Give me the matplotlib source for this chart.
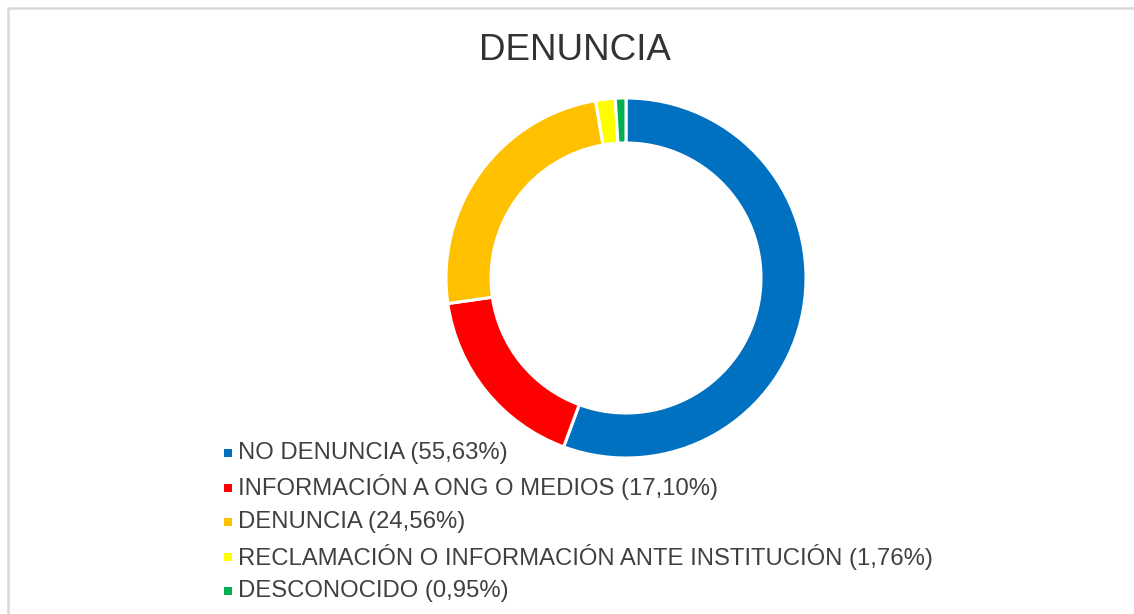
import matplotlib.pyplot as plt

plt.rcParams["font.family"] = ["Liberation Sans", "DejaVu Sans"]

categories = [
    "NO DENUNCIA",
    "INFORMACIÓN A ONG O MEDIOS",
    "DENUNCIA",
    "RECLAMACIÓN O INFORMACIÓN ANTE INSTITUCIÓN",
    "DESCONOCIDO",
]
shares = [55.63, 17.10, 24.56, 1.76, 0.95]
colors = ["#0070C0", "#FF0000", "#FFC000", "#FFFF00", "#00B050"]

W, H = 1134, 614
fig = plt.figure(figsize=(W / 100, H / 100), dpi=100)
ax = fig.add_axes([0, 0, 1, 1])

ax.pie(
    shares,
    colors=colors,
    startangle=90,
    counterclock=False,
    center=(626, H - 278),
    radius=180,
    wedgeprops=dict(width=45, edgecolor="white", linewidth=2.2),
    frame=True,
)
ax.set_xlim(0, W)
ax.set_ylim(0, H)
ax.set_aspect("equal")
ax.axis("off")

# chart frame: only the left and top edges fall inside the picture
ax.plot([8, 8, W + 10], [-10, H - 8, H - 8], color="#d9d9d9", lw=1.8, clip_on=False)

ax.text(575, H - 51, "DENUNCIA", ha="center", va="center", fontsize=26.5, color="#333333")

for i, (cat, val, col) in enumerate(zip(categories, shares, colors)):
    y = H - (453 + i * 34.5)
    ax.scatter([228], [y], marker="s", s=30, color=col, linewidths=0)
    label = f"{cat} ({val:.2f}%)".replace(".", ",")
    ax.text(238, y, label, ha="left", va="center", fontsize=17.2, color="#404040")

fig.savefig("out.png", dpi=100)
